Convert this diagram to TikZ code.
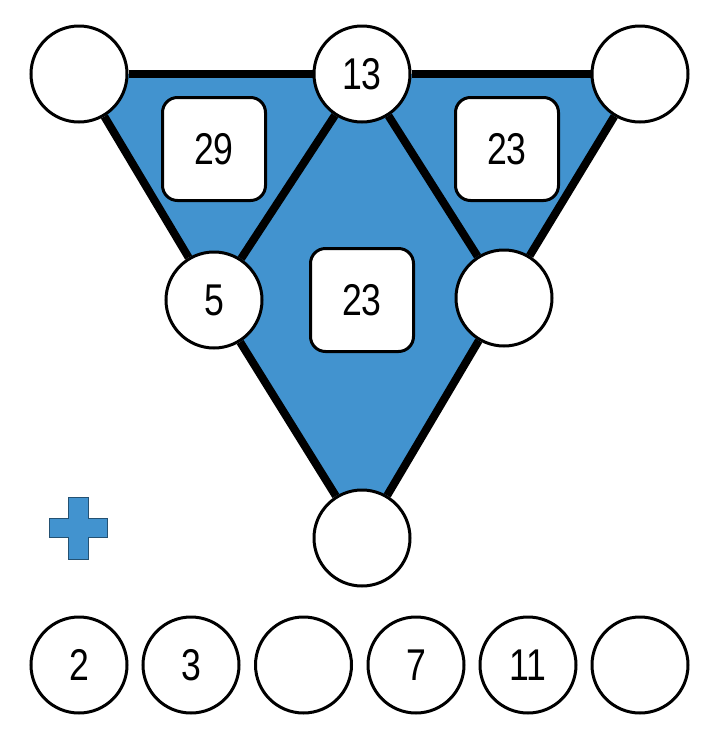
\documentclass[tikz,border=0pt]{standalone}
\usepackage{fontspec}
\setmainfont{Liberation Sans}[FakeStretch=0.8]
\usetikzlibrary{backgrounds}
\definecolor{puzblue}{HTML}{4293CF}

\begin{document}
\begin{tikzpicture}[x=1pt,y=-1pt,
  spot/.style={circle, draw=black, line width=3pt, fill=white,
               minimum size=96pt, inner sep=0pt,
               font=\fontsize{44.5}{44.5}\selectfont},
  sumbox/.style={rectangle, rounded corners=15pt, draw=black, line width=3pt,
               fill=white, minimum size=103pt, inner sep=0pt,
               font=\fontsize{44.5}{44.5}\selectfont},
  edge/.style={line width=8pt, draw=black}
]
  \useasboundingbox (0,0) rectangle (720,729);
  % corner and edge circles
  \node[spot] (tl)  at (79,74)  {};
  \node[spot] (top) at (362,74) {13};
  \node[spot] (tr)  at (640,74) {};
  \node[spot] (ml)  at (214,300) {5};
  \node[spot] (mr)  at (504,298) {};
  \node[spot] (bt)  at (362,538) {};
  % sums
  \node[sumbox] (sl) at (214,149) {29};
  \node[sumbox] (sr) at (507,149) {23};
  \node[sumbox] (sm) at (362,300) {23};
  \begin{pgfonlayer}{background}
    \fill[puzblue] (tl.center) -- (tr.center) -- (bt.center) -- cycle;
  \end{pgfonlayer}
  \draw[edge] (tl) -- (top);  \draw[edge] (top) -- (tr);
  \draw[edge] (tl) -- (ml);   \draw[edge] (ml) -- (bt);
  \draw[edge] (tr) -- (mr);   \draw[edge] (mr) -- (bt);
  \draw[edge] (top) -- (ml);  \draw[edge] (top) -- (mr);
  % plus sign
  \filldraw[fill=puzblue, draw=puzblue!55!black, line width=0.8pt]
    (68,497) -- (88,497) -- (88,518) -- (107,518) -- (107,537) -- (88,537)
    -- (88,559) -- (68,559) -- (68,537) -- (49,537) -- (49,518) -- (68,518) -- cycle;
  % numbers to place
  \foreach \n/\x/\t in {1/79/2, 2/191/3, 3/303.5/{}, 4/416/7, 5/528/11, 6/640/{}}
    \node[spot] (p\n) at (\x,665) {\t};
\end{tikzpicture}
\end{document}
